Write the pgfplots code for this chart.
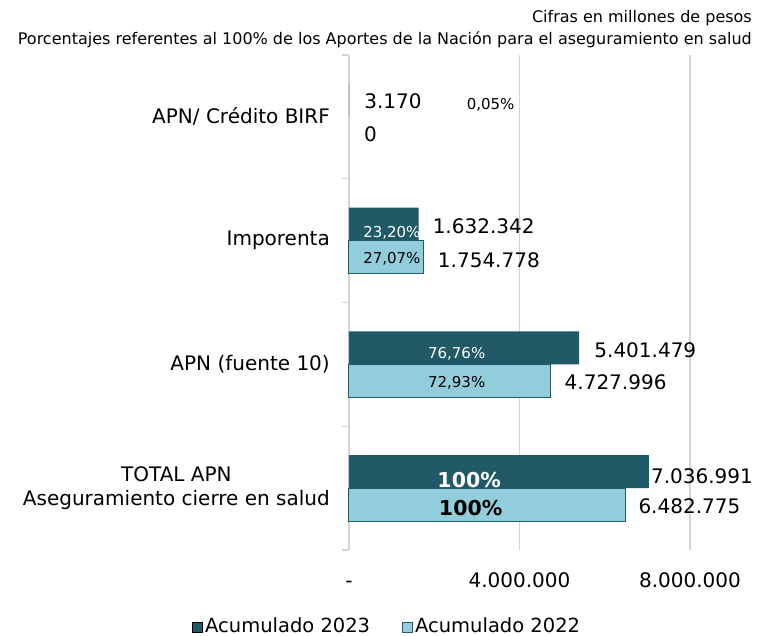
\documentclass[border=0pt]{standalone}
\usepackage{fontspec}
\setmainfont{DejaVu Sans}
\usepackage{pgfplots}
\pgfplotsset{compat=1.18}
\definecolor{darkteal}{HTML}{215967}
\definecolor{lightaqua}{HTML}{92CDDC}
\definecolor{gridgray}{HTML}{D4D4D4}
\begin{document}
\begin{tikzpicture}[x=1pt,y=1pt]
\useasboundingbox (-349,-86) rectangle (410,550);
\begin{axis}[
  at={(0,0)}, anchor=south west,
  scale only axis, width=341pt, height=495pt,
  xmin=0, xmax=8000000, ymin=-0.5, ymax=3.5,
  axis y line*=left, axis x line*=bottom,
  x axis line style={draw=none},
  y axis line style={gridgray, line width=1.2pt},
  xtick={0,4000000,8000000},
  xticklabels={-,4.000.000,8.000.000},
  scaled x ticks=false,
  xticklabel style={anchor=base, yshift=-37pt, font=\fontsize{20}{24}\selectfont},
  x tick style={draw=none},
  xmajorgrids=true,
  major grid style={gridgray, line width=1.2pt},
  ytick={0,1,2,3},
  yticklabels={{TOTAL APN\\Aseguramiento cierre en salud},{APN (fuente 10)},{Imporenta},{APN/ Crédito BIRF}},
  yticklabel style={align=center, anchor=east, inner sep=0pt, xshift=-19pt, font=\fontsize{20}{24}\selectfont},
  y tick style={draw=none},
  minor ytick={-0.5,0.5,1.5,2.5,3.5},
  minor y tick style={draw=gridgray, line width=1.2pt},
  major tick length=0pt, minor tick length=7pt, tick align=outside,
  bar width=33pt,
  clip=false,
  legend columns=2,
  legend style={at={(-0.4604,-0.1535)}, anchor=west, draw=none, fill=none,
    inner sep=0pt, font=\fontsize{19.5}{22}\selectfont,
    nodes={inner sep=2pt, anchor=base west},
    /tikz/every even column/.append style={column sep=30pt}},
  legend image code/.code={\draw[#1,/tikz/.cd,line width=1pt] (0pt,0pt) rectangle (10pt,10pt);},
]
\addplot[xbar, fill=darkteal, draw=none, bar shift=16.5pt]
  coordinates {(7036991,0) (5401479,1) (1632342,2) (3170,3)};
\addlegendentry{Acumulado 2023}
\addplot[xbar, fill=lightaqua, draw=darkteal, line width=1pt, bar shift=-16.5pt,
  restrict x to domain=1:100000000]
  coordinates {(6482775,0) (4727996,1) (1754778,2) (0,3)};
\addlegendentry{Acumulado 2022}
% value labels
\begin{scope}[every node/.style={anchor=base west, inner sep=0pt, font=\fontsize{20}{24}\selectfont}]
\node[xshift=15pt,yshift=7.9pt] at (axis cs:3170,3) {3.170};
\node[xshift=15pt,yshift=-25.1pt] at (axis cs:0,3) {0};
\node[xshift=14pt,yshift=7.6pt] at (axis cs:1632342,2) {1.632.342};
\node[xshift=14pt,yshift=-26.4pt] at (axis cs:1754778,2) {1.754.778};
\node[xshift=15pt,yshift=6.4pt] at (axis cs:5401479,1) {5.401.479};
\node[xshift=14pt,yshift=-25.6pt] at (axis cs:4727996,1) {4.727.996};
\node[xshift=2pt,yshift=5.1pt] at (axis cs:7036991,0) {7.036.991};
\node[xshift=13pt,yshift=-24.9pt] at (axis cs:6482775,0) {6.482.775};
\end{scope}
% percentage labels
\begin{scope}[every node/.style={anchor=base, inner sep=0pt, font=\fontsize{15}{18}\selectfont}]
\node[white, yshift=3.6pt] at (axis cs:1006000,2) {23,20\%};
\node[yshift=-22.4pt] at (axis cs:1006000,2) {27,07\%};
\node[white, yshift=5.4pt] at (axis cs:2526000,1) {76,76\%};
\node[yshift=-23.6pt] at (axis cs:2526000,1) {72,93\%};
\node[yshift=6.9pt] at (axis cs:3322000,3) {0,05\%};
\node[white, yshift=1.1pt, font=\fontsize{20.5}{24}\bfseries] at (axis cs:2819000,0) {100\%};
\node[yshift=-26.9pt, font=\fontsize{20.5}{24}\bfseries] at (axis cs:2854000,0) {100\%};
\end{scope}
\end{axis}
\node[anchor=base east, inner sep=0pt, font=\fontsize{16}{19}\selectfont] at (403,527) {Cifras en millones de pesos};
\node[anchor=base east, inner sep=0pt, font=\fontsize{16}{19}\selectfont] at (403,505) {Porcentajes referentes al 100\% de los Aportes de la Nación para el aseguramiento en salud};
\end{tikzpicture}
\end{document}
